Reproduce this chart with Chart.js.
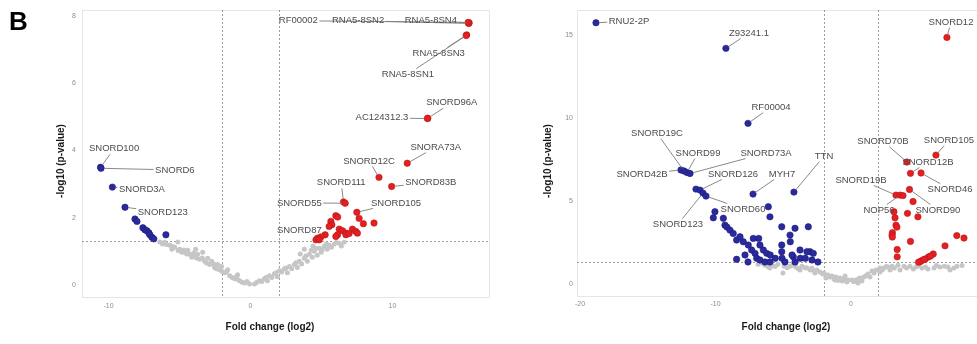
<!DOCTYPE html>
<html>
<head>
<meta charset="utf-8">
<script src="https://cdn.jsdelivr.net/npm/chart.js@4.4.1/dist/chart.umd.min.js"></script>
<style>
  html, body { margin: 0; padding: 0; background: #fff; overflow: hidden; }
  #wrap { position: relative; width: 977px; height: 344px; overflow: hidden; }
  #wrap canvas { position: absolute; top: 0; }
  #left { left: 0; }
  #right { left: 510px; }
</style>
</head>
<body>
<div id="wrap">
  <canvas id="left" width="505" height="344"></canvas>
  <canvas id="right" width="490" height="344"></canvas>
</div>
<script>
// ---------- shared thresholds and text ----------
const foldCutoffs = [-2, 2];
const pValueCutoff = 1.3;
const xTitleText = 'Fold change (log2)';
const yTitleText = '-log10 (p-value)';
const panelTag = 'B';

// ---------- left volcano plot ----------
const leftXTicks = [-10, 0, 10];
const leftYTicks = [0, 2, 4, 6, 8];

const leftUpNames = ['RNA5-8SN4', 'RNA5-8SN2', 'RF00002', 'RNA5-8SN3', 'RNA5-8SN1', 'SNORD96A', 'AC124312.3',
  'SNORA73A', 'SNORD12C', 'SNORD83B', 'SNORD111', 'SNORD55', 'SNORD105', 'SNORD87',
  '', '', '', '', '', '', '', '', '', '', '', '', '', '', '', '', '', '', '', '', '', ''];
const leftUpFC = [15.40, 15.37, 15.33, 15.23, 15.19, 12.49, 12.46, 11.04, 9.05, 9.94, 6.55, 6.67, 7.49, 5.26,
  6.01, 6.14, 7.65, 7.95, 8.70, 5.66, 5.73, 5.54, 6.25, 6.48, 6.72, 6.13, 6.01, 7.18, 7.42, 7.53, 4.96, 4.72,
  4.61, 4.84, 6.72, 6.95];
const leftUpP = [7.80, 7.78, 7.81, 7.44, 7.42, 4.96, 4.95, 3.62, 3.20, 2.93, 2.47, 2.43, 2.16, 1.49,
  2.06, 2.02, 1.98, 1.82, 1.84, 1.89, 1.79, 1.74, 1.66, 1.61, 1.54, 1.49, 1.44, 1.66, 1.59, 1.54, 1.43, 1.39,
  1.34, 1.34, 1.49, 1.53];

const leftDownNames = ['SNORD100', 'SNORD6', 'SNORD3A', 'SNORD123', '', '', '', '', '', '', '', '', '', ''];
const leftDownFC = [-10.56, -10.53, -9.73, -8.84, -8.14, -8.00, -7.58, -7.44, -7.30, -7.16, -7.09, -6.95, -6.81, -5.96];
const leftDownP = [3.50, 3.47, 2.91, 2.31, 1.96, 1.89, 1.70, 1.64, 1.61, 1.55, 1.49, 1.42, 1.37, 1.49];

const leftNsFC = [-6.39, -6.04, -5.68, -5.33, -4.98, -4.63, -4.28, -3.93, -3.58, -3.23, -2.88, -2.53, -2.18, -1.82,
  -1.47, -1.12, -0.77, -0.42, -0.07,
  -5.54, -4.84, -4.14, -4.42, -3.72, -3.02, -2.32, -1.61, -0.91, -2.74, -2.04, -3.86, -3.37, -5.12,
  -6.20, -5.90, -5.50, -5.10, -4.70, -4.50, -4.00, -3.80, -3.40, -3.10, -2.60, -2.40, -2.00, -1.70, -1.30, -1.00,
  -0.60, -0.25, -0.90,
  0.28, 0.63, 0.98, 1.33, 1.68, 2.04, 2.39, 2.74, 3.09, 3.44, 3.79, 4.14, 4.49, 4.84, 5.19, 5.54, 5.89, 6.25, 6.60,
  1.19, 1.89, 2.60, 3.30, 4.00, 4.70, 4.28, 4.98, 5.40, 3.79,
  0.45, 0.80, 1.10, 1.50, 1.80, 2.20, 2.50, 2.90, 3.20, 3.60, 3.90, 4.35, 4.60, 5.05, 5.35, 5.70, 6.05, 6.40,
  4.40, 3.50];
const leftNsP = [1.28, 1.27, 1.18, 1.12, 1.06, 0.97, 0.91, 0.85, 0.76, 0.70, 0.61, 0.52, 0.45, 0.36,
  0.27, 0.18, 0.12, 0.06, 0.03,
  1.06, 0.97, 0.82, 1.03, 0.91, 0.79, 0.61, 0.45, 0.30, 0.70, 0.55, 1.06, 0.97, 1.28,
  1.22, 1.20, 1.14, 1.02, 1.04, 0.92, 0.95, 0.80, 0.80, 0.65, 0.62, 0.48, 0.40, 0.38, 0.22, 0.24,
  0.08, 0.10, 0.16,
  0.03, 0.12, 0.18, 0.27, 0.33, 0.42, 0.48, 0.55, 0.61, 0.70, 0.79, 0.91, 1.00, 1.09, 1.15, 1.18, 1.21, 1.24, 1.27,
  0.12, 0.24, 0.36, 0.52, 0.70, 0.88, 1.03, 0.97, 1.06, 1.06,
  0.08, 0.10, 0.22, 0.22, 0.36, 0.38, 0.50, 0.48, 0.66, 0.62, 0.86, 0.82, 1.08, 1.05, 1.22, 1.12, 1.26, 1.16,
  1.16, 0.92];

// ---------- right volcano plot ----------
const rightXTicks = [-20, -10, 0, 10];
const rightYTicks = [0, 5, 10, 15];

const rightUpNames = ['SNORD12', 'SNORD105', 'SNORD70B', 'SNORD12B', 'SNORD46', 'SNORD90', 'SNORD19B', 'NOP56',
  '', '', '', '', '', '', '', '', '', '', '', '', '', '', '', '', '', '', '', '', '', '', '', '', ''];
const rightUpFC = [7.08, 6.27, 4.13, 4.39, 5.17, 4.32, 3.32, 3.62, 3.84, 4.58, 4.17, 4.94, 3.17, 3.25, 3.32, 3.39,
  3.06, 3.03, 3.05, 4.39, 3.41, 3.41, 6.94, 7.81, 8.34, 6.07, 5.72, 5.48, 5.24, 5.09, 4.99, 5.39, 5.87];
const rightUpP = [14.86, 7.77, 7.35, 6.67, 6.69, 5.70, 5.36, 5.36, 5.33, 4.97, 4.26, 4.05, 4.36, 3.99, 3.55, 3.43,
  3.10, 2.95, 2.83, 2.57, 2.08, 1.64, 2.30, 2.92, 2.77, 1.81, 1.63, 1.51, 1.42, 1.34, 1.32, 1.48, 1.69];

const rightDownNames = ['RNU2-2P', 'Z93241.1', 'RF00004', 'SNORD42B', 'SNORD19C', 'SNORD99', 'SNORD73A', '',
  'SNORD126', 'SNORD123', 'SNORD60', 'MYH7', 'TTN',
  '', '', '', '', '', '', '', '', '', '', '', '', '', '', '', '', '', '', '', '', '', '', '', '', '', '', '',
  '', '', '', '', '', '', '', '', '', '', '', '', '', '', '', '', '', '', '', '', '', ''];
const rightDownFC = [-18.82, -9.23, -7.60, -12.55, -12.32, -12.10, -11.88, -11.44, -11.14, -10.92, -10.70, -7.23, -4.21,
  -10.04, -10.16, -9.42, -9.30, -9.15, -8.93, -8.69, -8.44, -8.19, -7.95, -7.58, -7.33, -7.08, -6.96, -8.44, -7.21,
  -6.72, -6.47, -6.22, -6.10, -5.98, -5.11, -4.13, -3.15, -4.50, -5.11, -5.11, -4.26, -3.03, -2.78, -7.82, -6.81,
  -5.96, -5.59, -5.09, -4.35, -3.74, -3.25, -2.88, -3.37, -4.48, -4.87, -6.35, -2.44, -6.72, -7.60, -5.98, -4.13, -3.76];
const rightDownP = [15.74, 14.20, 9.68, 6.87, 6.81, 6.72, 6.66, 5.72, 5.66, 5.48, 5.30, 5.42, 5.54,
  4.36, 3.99, 3.96, 3.55, 3.43, 3.25, 3.05, 2.65, 2.85, 2.55, 2.35, 2.05, 1.85, 1.55, 1.49, 2.75,
  2.35, 2.05, 1.85, 4.66, 4.05, 3.45, 3.36, 3.45, 2.95, 2.35, 1.95, 1.64, 1.95, 1.85, 1.75, 2.75,
  1.75, 1.55, 1.55, 1.75, 1.55, 1.95, 1.45, 1.55, 2.55, 1.33, 1.33, 1.33, 1.45, 1.33, 1.33, 1.33, 2.05];

const rightNsFC = [-6.86, -6.35, -5.83, -5.39, -4.94, -4.50, -4.06, -3.62, -3.25, -2.88, -2.51, -2.29, -1.99, -1.70,
  -1.40, -1.11, -0.81, -0.52, -0.22, 0.07, 0.37, 0.66, 0.96, 1.25, 1.55, 1.85, 2.14, 2.44, 2.73, 3.03, 3.47, 3.91,
  4.35, 4.80, 5.24, 5.68, 6.13, 6.57, 7.16, 7.82,
  -5.02, -5.98, -0.44, 2.14, 3.62, 7.31, -1.18, 0.52, -2.66, -1.85, 0.81, 1.40, 2.88, -3.76, -6.57,
  -6.10, -5.60, -4.70, -4.30, -3.90, -3.40, -3.00, -2.70, -2.10, -1.55, -1.25, -0.95, -0.65, -0.30, 0.20, 0.55,
  1.10, 1.70, 2.30, 2.60, 3.20, 4.10, 4.60, 5.00, 5.50, 6.30, 6.90, 7.60, 8.20];
const rightNsP = [1.20, 1.14, 1.14, 1.20, 1.08, 1.08, 1.02, 1.08, 0.96, 0.96, 0.84, 0.72, 0.66, 0.54,
  0.48, 0.42, 0.36, 0.30, 0.24, 0.24, 0.24, 0.36, 0.42, 0.60, 0.78, 0.84, 0.96, 0.96, 1.02, 1.08, 1.14, 1.08,
  1.08, 1.02, 0.96, 0.90, 0.96, 1.02, 1.02, 1.08,
  0.66, 0.96, 0.48, 0.72, 0.84, 0.84, 0.24, 0.06, 0.66, 0.36, 0.18, 0.42, 0.84, 0.84, 1.25,
  1.02, 1.06, 0.98, 1.14, 0.92, 0.98, 0.84, 0.78, 0.60, 0.42, 0.30, 0.22, 0.18, 0.12, 0.14, 0.30,
  0.50, 0.66, 0.84, 1.06, 0.96, 0.96, 0.90, 1.10, 1.02, 1.12, 1.08, 0.96, 1.12];

// ---------- label placement (text centres, in axis units) ----------
const leftLabelAt = {
  'SNORD100': [-9.61, 4.05], 'SNORD6': [-5.33, 3.42], 'SNORD3A': [-7.65, 2.83], 'SNORD123': [-6.18, 2.17],
  'RNA5-8SN4': [12.70, 7.86], 'RNA5-8SN2': [7.58, 7.86], 'RF00002': [3.37, 7.86],
  'RNA5-8SN3': [13.26, 6.90], 'RNA5-8SN1': [11.09, 6.27], 'SNORD96A': [14.18, 5.42], 'AC124312.3': [9.26, 4.97],
  'SNORA73A': [13.05, 4.10], 'SNORD12C': [8.35, 3.69], 'SNORD83B': [12.70, 3.04], 'SNORD111': [6.39, 3.04],
  'SNORD55': [3.44, 2.44], 'SNORD105': [10.25, 2.44], 'SNORD87': [3.44, 1.61]
};
const rightLabelAt = {
  'RNU2-2P': [-16.38, 15.84], 'Z93241.1': [-7.53, 15.12], 'RF00004': [-5.90, 10.66],
  'SNORD19C': [-14.32, 9.08], 'SNORD99': [-11.29, 7.89], 'SNORD73A': [-6.27, 7.89], 'SNORD42B': [-15.42, 6.63],
  'SNORD126': [-8.71, 6.63], 'SNORD123': [-12.77, 3.61], 'SNORD60': [-7.97, 4.52], 'MYH7': [-5.09, 6.63],
  'TTN': [-1.99, 7.71], 'SNORD12': [7.38, 15.78], 'SNORD105': [7.23, 8.67], 'SNORD70B': [2.36, 8.61],
  'SNORD12B': [5.68, 7.35], 'SNORD46': [7.31, 5.72], 'SNORD19B': [0.74, 6.27], 'NOP56': [2.07, 4.46],
  'SNORD90': [6.42, 4.46]
};

// ---------- styling ----------
const UP = 'rgb(226,32,34)', UP_EDGE = 'rgb(190,20,22)';
const DOWN = 'rgb(42,42,158)', DOWN_EDGE = 'rgb(28,28,120)';
const NS = 'rgb(198,198,198)';
const FONT = '"Liberation Sans", Arial, Helvetica, sans-serif';

function pts(fc, p) { return fc.map((v, i) => ({ x: v, y: p[i] })); }

function overlay(opts) {
  return {
    id: 'volcanoOverlay',
    beforeDatasetsDraw(chart) {
      const { ctx, chartArea: a, scales: { x, y } } = chart;
      ctx.save();
      ctx.strokeStyle = '#e6e6e6';
      ctx.lineWidth = 1;
      ctx.strokeRect(a.left + 0.5, a.top + 0.5, a.width - 1, a.height - 1);
      ctx.strokeStyle = '#9c9c9c';
      ctx.setLineDash([2, 2]);
      foldCutoffs.forEach(v => {
        const px = Math.round(x.getPixelForValue(v)) + 0.5;
        ctx.beginPath(); ctx.moveTo(px, a.top); ctx.lineTo(px, a.bottom); ctx.stroke();
      });
      const py = Math.round(y.getPixelForValue(pValueCutoff)) + 0.5;
      ctx.beginPath(); ctx.moveTo(a.left, py); ctx.lineTo(a.right, py); ctx.stroke();
      ctx.restore();
    },
    afterDatasetsDraw(chart) {
      const { ctx, scales: { x, y } } = chart;
      ctx.save();
      ctx.font = '9.5px ' + FONT;
      ctx.textAlign = 'center';
      ctx.textBaseline = 'middle';
      const items = [];
      chart.data.datasets.forEach((ds, di) => {
        if (!ds.names) return;
        const meta = chart.getDatasetMeta(di);
        ds.names.forEach((name, i) => {
          const at = opts.labelAt[name];
          if (!name || !at) return;
          const el = meta.data[i];
          items.push({
            name, px: el.x, py: el.y,
            cx: x.getPixelForValue(at[0]), cy: y.getPixelForValue(at[1]),
            w: ctx.measureText(name).width, h: 9
          });
        });
      });
      // leader segments: from the point towards the label centre, stopping at the label box
      ctx.strokeStyle = '#7c7c7c';
      ctx.lineWidth = 0.9;
      items.forEach(it => {
        const hw = it.w / 2 + 1.5, hh = it.h / 2 + 1;
        const dx = it.cx - it.px, dy = it.cy - it.py;
        if (Math.abs(dx) <= hw && Math.abs(dy) <= hh) return;
        const s = Math.min(dx ? hw / Math.abs(dx) : Infinity, dy ? hh / Math.abs(dy) : Infinity);
        const ex = it.cx - s * dx, ey = it.cy - s * dy;
        const len = Math.hypot(ex - it.px, ey - it.py);
        if (len < 4) return;
        const sx = it.px + (ex - it.px) * 3 / len, sy = it.py + (ey - it.py) * 3 / len;
        ctx.beginPath(); ctx.moveTo(sx, sy); ctx.lineTo(ex, ey); ctx.stroke();
      });
      ctx.fillStyle = '#4c4c4c';
      items.forEach(it => ctx.fillText(it.name, it.cx, it.cy));
      ctx.restore();
    },
    afterDraw(chart) {
      const { ctx } = chart;
      ctx.save();
      ctx.fillStyle = '#1a1a1a';
      ctx.font = 'bold 10px ' + FONT;
      ctx.textAlign = 'center';
      ctx.textBaseline = 'middle';
      ctx.fillText(xTitleText, opts.xTitle[0], opts.xTitle[1]);
      ctx.save();
      ctx.translate(opts.yTitle[0], opts.yTitle[1]);
      ctx.rotate(-Math.PI / 2);
      ctx.fillText(yTitleText, 0, 0);
      ctx.restore();
      if (opts.tag) {
        ctx.fillStyle = '#000';
        ctx.font = 'bold 26px ' + FONT;
        ctx.textAlign = 'left';
        ctx.textBaseline = 'alphabetic';
        ctx.fillText(opts.tag, 9, 30);
      }
      ctx.restore();
    }
  };
}

function volcano(id, d) {
  const tickFont = { size: 7, family: FONT };
  return new Chart(document.getElementById(id), {
    type: 'scatter',
    data: {
      datasets: [
        { label: 'up', data: pts(d.upFC, d.upP), names: d.upNames, order: 1,
          backgroundColor: UP, borderColor: UP_EDGE, borderWidth: 0.6, pointRadius: 3.2 },
        { label: 'down', data: pts(d.downFC, d.downP), names: d.downNames, order: 2,
          backgroundColor: DOWN, borderColor: DOWN_EDGE, borderWidth: 0.6, pointRadius: 3.2 },
        { label: 'ns', data: pts(d.nsFC, d.nsP), order: 3,
          backgroundColor: NS, borderColor: NS, borderWidth: 0, pointRadius: 2.5 }
      ]
    },
    options: {
      responsive: false,
      animation: false,
      devicePixelRatio: 1,
      layout: { padding: { left: 0, right: d.padRight, top: 10, bottom: 0 } },
      plugins: { legend: { display: false }, tooltip: { enabled: false } },
      elements: { point: { hoverRadius: 3.2 } },
      scales: {
        x: {
          type: 'linear', min: d.xMin, max: d.xMax,
          grid: { display: false, drawTicks: false }, border: { display: false },
          ticks: { color: '#8c8c8c', font: tickFont, padding: d.xTickPad, maxRotation: 0, autoSkip: false },
          afterBuildTicks: s => { s.ticks = d.xTicks.map(v => ({ value: v })); },
          afterFit: s => { s.height = d.xAxisH; s.paddingLeft = 0; s.paddingRight = 0; }
        },
        y: {
          type: 'linear', min: d.yMin, max: d.yMax,
          grid: { display: false, drawTicks: false }, border: { display: false },
          ticks: { color: '#8c8c8c', font: tickFont, padding: d.yTickPad, autoSkip: false },
          afterBuildTicks: s => { s.ticks = d.yTicks.map(v => ({ value: v })); },
          afterFit: s => { s.width = d.yAxisW; s.paddingTop = 0; s.paddingBottom = 0; }
        }
      }
    },
    plugins: [overlay(d.overlay)]
  });
}

volcano('left', {
  upNames: leftUpNames, upFC: leftUpFC, upP: leftUpP,
  downNames: leftDownNames, downFC: leftDownFC, downP: leftDownP,
  nsFC: leftNsFC, nsP: leftNsP,
  xTicks: leftXTicks, yTicks: leftYTicks,
  xMin: -11.87, xMax: 16.87, yMin: -0.39, yMax: 8.18,
  padRight: 15, yAxisW: 82, xAxisH: 46, xTickPad: 4, yTickPad: 6,
  overlay: { labelAt: leftLabelAt, xTitle: [270, 327], yTitle: [61, 161], tag: panelTag }
});

volcano('right', {
  upNames: rightUpNames, upFC: rightUpFC, upP: rightUpP,
  downNames: rightDownNames, downFC: rightDownFC, downP: rightDownP,
  nsFC: rightNsFC, nsP: rightNsP,
  xTicks: rightXTicks, yTicks: rightYTicks,
  xMin: -20.22, xMax: 10.26, yMin: -0.78, yMax: 16.51,
  padRight: 10, yAxisW: 67, xAxisH: 47, xTickPad: 3, yTickPad: 4,
  overlay: { labelAt: rightLabelAt, xTitle: [276, 327], yTitle: [38, 161], tag: null }
});
</script>
</body>
</html>
